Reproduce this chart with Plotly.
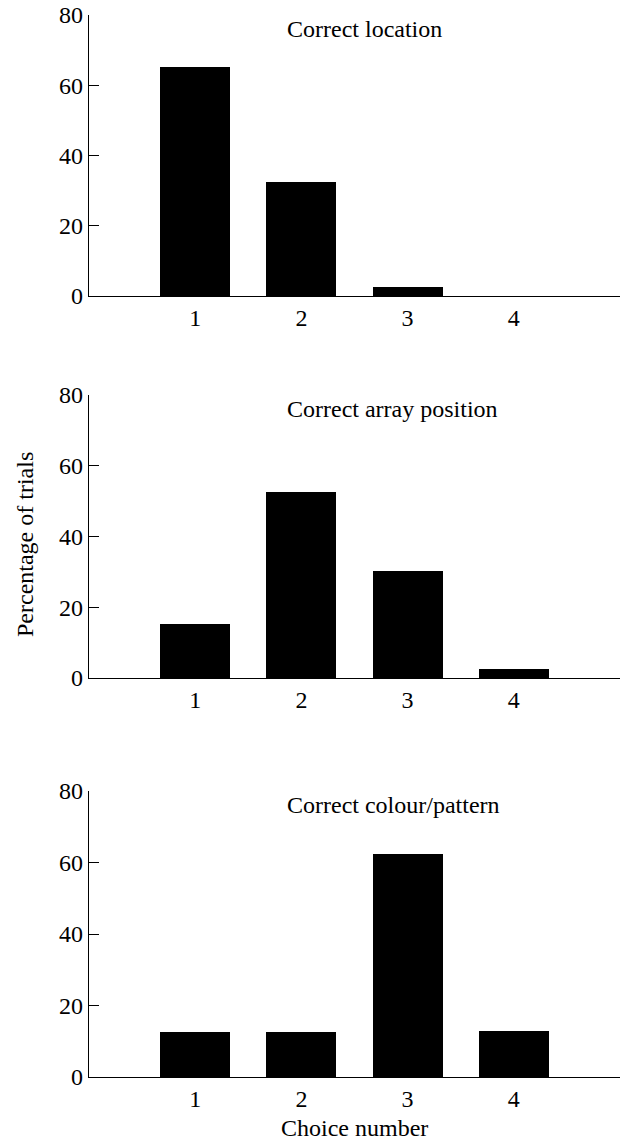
import plotly.graph_objects as go
from plotly.subplots import make_subplots

choices = [1, 2, 3, 4]
x_tick_labels = ["1", "2", "3", "4"]
y_ticks = [0, 20, 40, 60, 80]
panel_titles = ["Correct location", "Correct array position", "Correct colour/pattern"]
location_pct = [65.2, 32.5, 2.6, 0.0]
array_position_pct = [15.2, 52.6, 30.2, 2.5]
colour_pattern_pct = [12.6, 12.6, 62.4, 12.8]
series = [location_pct, array_position_pct, colour_pattern_pct]

W, H = 622, 1141
ml, mr, mt, mb = 89, 2, 15, 64
ph = H - mt - mb

fig = make_subplots(rows=3, cols=1, shared_xaxes=False)

domains = [
    [(1077 - 296) / ph, 1.0],
    [(1077 - 678) / ph, (1077 - 395) / ph],
    [0.0, (1077 - 791) / ph],
]

FONT = "Liberation Serif"
FS = 24

for i, vals in enumerate(series):
    r = i + 1
    fig.add_trace(go.Bar(x=choices, y=vals, width=0.66,
                         marker=dict(color="black", line=dict(width=0)),
                         showlegend=False), row=r, col=1)
    xa = "xaxis" if r == 1 else f"xaxis{r}"
    ya = "yaxis" if r == 1 else f"yaxis{r}"
    fig.layout[xa].update(range=[0, 5], tickvals=choices, ticktext=x_tick_labels,
                          showline=True, linecolor="black", linewidth=1.3,
                          ticks="", showgrid=False, zeroline=False,
                          tickfont=dict(family=FONT, size=FS, color="black"),
                          ticklabelstandoff=0)
    fig.layout[ya].update(range=[0, 80], tickvals=y_ticks, domain=domains[i],
                          showline=True, linecolor="black", linewidth=1.3,
                          ticks="inside", ticklen=10, tickcolor="black", tickwidth=1,
                          showgrid=False, zeroline=False,
                          tickfont=dict(family=FONT, size=FS, color="black"))
    xref = "x" if r == 1 else f"x{r}"
    yref = "y" if r == 1 else f"y{r}"
    fig.add_annotation(x=1.85, y=76, xref=xref, yref=yref, text=panel_titles[i],
                       showarrow=False, xanchor="left", yanchor="middle",
                       font=dict(family=FONT, size=FS, color="black"))

fig.add_annotation(x=-(ml - 25) / (W - ml - mr), y=(1077 - 545) / ph,
                   xref="paper", yref="paper", text="Percentage of trials",
                   textangle=-90, showarrow=False, xanchor="center", yanchor="middle",
                   font=dict(family=FONT, size=FS, color="black"))
fig.add_annotation(x=0.5, y=-(1128 - 1077) / ph, xref="paper", yref="paper",
                   text="Choice number", showarrow=False, xanchor="center", yanchor="middle",
                   font=dict(family=FONT, size=FS, color="black"))

fig.update_layout(width=W, height=H, margin=dict(l=ml, r=mr, t=mt, b=mb),
                  plot_bgcolor="white", paper_bgcolor="white", bargap=0,
                  font=dict(family=FONT, size=FS, color="black"))

fig.write_html("out.html", config={"displayModeBar": False},
               post_script="document.body.style.margin='0';document.body.style.overflow='hidden';")
